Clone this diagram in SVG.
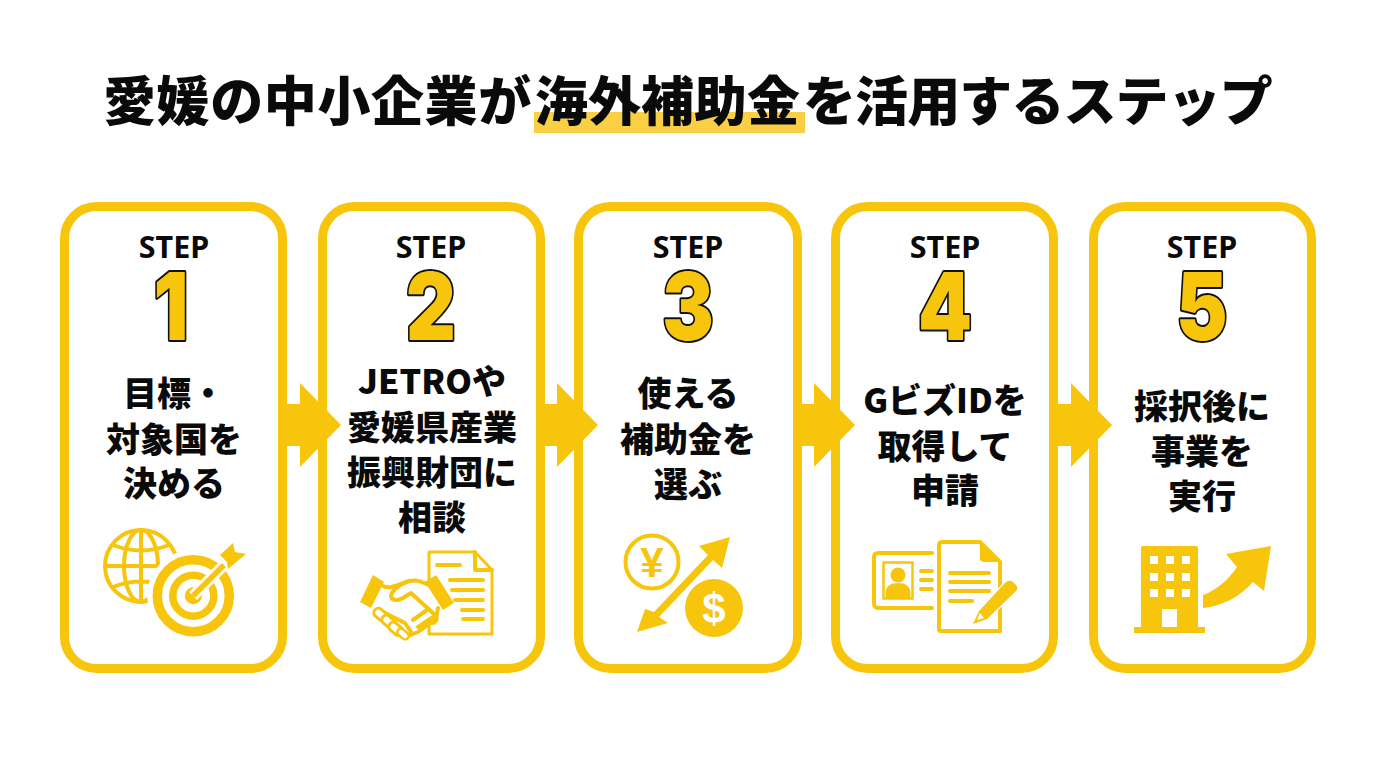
<svg xmlns="http://www.w3.org/2000/svg" width="1376" height="768" viewBox="0 0 1376 768">
<style>
text{font-family:"Noto Sans CJK JP","Noto Sans",sans-serif;text-anchor:middle;fill:#0a0a0a;font-weight:700}
.title{font-size:53px;font-weight:900;text-anchor:start}
.label{font-size:34px;font-weight:900}
.step{font-family:"Noto Sans",sans-serif;font-size:30.500px;font-weight:700}
.num{font-family:Inter,sans-serif;font-size:94px;font-weight:900;fill:#F7C50C;stroke:#111;stroke-width:4;stroke-linejoin:round;paint-order:stroke}
.card{fill:#fff;stroke:#F7C50C;stroke-width:9}
.y{fill:#F7C50C;stroke:none}
.o{fill:none;stroke:#F7C50C;stroke-width:4;stroke-linecap:round;stroke-linejoin:round}
.ow{fill:#fff;stroke:#F7C50C;stroke-width:3;stroke-linejoin:round}
</style>
<defs><path id="arrow" d="M-14 -21H0V-42L41 0L0 42V21H-14Z" fill="#F7C50C"/>
<rect id="fing" x="-8" y="-4.500" width="16" height="9" rx="4.500" fill="#fff" stroke="#F7C50C" stroke-width="3"/></defs>
<rect width="1376" height="768" fill="#fff"/>
<g id="title">
<rect x="534" y="112" width="271" height="21" fill="#F9D043"/>
<text class="title" x="103" y="121" letter-spacing=".6">愛媛の中小企業が</text>
<text class="title" x="535" y="121">海外補助金</text>
<text class="title" x="803" y="121" letter-spacing="-.9">を活用するステップ</text>
</g>
<g id="step1">
<rect class="card" x="64.500" y="206.500" width="218" height="462" rx="32"/>
<text class="step" x="174" y="258">STEP</text>
<text class="num" transform="translate(171 340) scale(.82 1)">1</text>
<text class="label" x="174" y="406">目標・</text>
<text class="label" x="174" y="452">対象国を</text>
<text class="label" x="174" y="496">決める</text>
<g>
<circle class="o" cx="141" cy="566" r="36" stroke-width="4.500"/>
<ellipse class="o" cx="141" cy="566" rx="17" ry="36"/>
<path class="o" d="M141 530V602M105 566H177M113 545Q141 556 169 545M113 587Q141 576 169 587"/>
<circle cx="193.300" cy="595.700" r="46" fill="#fff"/>
<circle cx="193.300" cy="595.700" r="36" fill="none" stroke="#F7C50C" stroke-width="9.500"/>
<circle cx="193.300" cy="595.700" r="20.500" fill="none" stroke="#F7C50C" stroke-width="7.500"/>
<circle cx="193.300" cy="595.700" r="8.500" class="y"/>
<path d="M193 596L224 565" stroke="#fff" stroke-width="11"/>
<path d="M193 596L224 565" stroke="#F7C50C" stroke-width="5.500"/>
<path class="y" d="M220 555L233 543L235 552L246 554L228 569L227 562Z"/>
</g>
</g>
<g id="step2">
<rect class="card" x="322.500" y="206.500" width="218" height="462" rx="32"/>
<text class="step" x="431" y="258">STEP</text>
<text class="num" transform="translate(431 340) scale(.82 1)">2</text>
<text class="label" x="432" y="394">JETROや</text>
<text class="label" x="432" y="440">愛媛県産業</text>
<text class="label" x="432" y="485">振興財団に</text>
<text class="label" x="432" y="530">相談</text>
<g>
<path class="ow" d="M429 552H475L492 570V634H429Z"/>
<path class="o" d="M475 552V570H492M437 565H460M450 580H483M452 590H483M455 600H483M462 610H483M463 619H483" stroke-width="3"/>
<path d="M375 600L384 586C392 588 400 583 410 581C418 579 424 583 431 586L440 605L436 619L418 632L405 638L376 612Z" fill="#fff"/>
<path class="o" d="M383 586C390 590 398 584 410 581C418 579 424 583 431 586" stroke-width="3.500"/>
<path class="o" d="M409 581C400 584 392 590 391 596C392 601 398 601 403 598L411 593L435 615C439 620 434 625 429 622" stroke-width="3.500"/>
<path class="o" d="M438 608L436 619L418 632L405 637M383 612L405 623L411 632M413 620L427 610M418 627L433 617" stroke-width="3.500"/>
<use href="#fing" transform="translate(381 615) rotate(40)"/>
<use href="#fing" transform="translate(389 622) rotate(40)"/>
<use href="#fing" transform="translate(396 629) rotate(40)"/>
<use href="#fing" transform="translate(403 634) rotate(40) scale(.8)"/>
<path class="y" d="M373 575L384 582L371 608L360 602Z"/>
<path class="y" d="M436 575L425 582L443 610L454 603Z"/>
</g>
</g>
<g id="step3">
<rect class="card" x="578.500" y="206.500" width="219" height="462" rx="32"/>
<text class="step" x="688" y="258">STEP</text>
<text class="num" transform="translate(688 340) scale(.82 1)">3</text>
<text class="label" x="688" y="406">使える</text>
<text class="label" x="688" y="452">補助金を</text>
<text class="label" x="688" y="497">選ぶ</text>
<g>
<circle class="o" cx="652" cy="562" r="26.500" stroke-width="4.500"/>
<text x="652" y="577" style="fill:#F7C50C;font-size:42px;font-family:'Liberation Sans',sans-serif;font-weight:700">¥</text>
<circle class="y" cx="714" cy="608" r="29"/>
<text x="714" y="623" style="fill:#fff;font-size:42px;font-family:'Liberation Sans',sans-serif;font-weight:700">$</text>
<path class="y" d="M730 537L722 568L713 560L659 617L668 623L637 632L645 609L654 612L708 555L699 546Z"/>
</g>
</g>
<g id="step4">
<rect class="card" x="835.500" y="206.500" width="218" height="462" rx="32"/>
<text class="step" x="945" y="258">STEP</text>
<text class="num" transform="translate(945 340) scale(.82 1)">4</text>
<text class="label" x="945" y="413">GビズIDを</text>
<text class="label" x="945" y="459">取得して</text>
<text class="label" x="945" y="503">申請</text>
<g>
<path class="o" d="M932 553H878Q874 553 874 557V603Q874 608 878 608H932"/>
<rect x="883.500" y="562.500" width="29" height="36" fill="none" stroke="#F7C50C" stroke-width="2.500"/>
<circle class="y" cx="898" cy="575" r="7.500"/>
<path class="y" d="M885.500 598V593C885.500 586 891 583 898 583C905 583 910.500 586 910.500 593V598Z"/>
<path class="o" d="M921 571H932M921 580H932M921 589H932" stroke-width="3"/>
<path class="o" d="M943 542H980L1000 562V631H941Q939 631 939 629V545Q939 542 943 542Z"/>
<path class="y" d="M980 542L1000 562H984Q980 562 980 558Z"/>
<path class="o" d="M950 573H989M950 582H989M950 591H989M950 601H972" stroke-width="3"/>
<path d="M973 624L979 611L1005 583Q1009 579 1013 582L1016 585Q1019 589 1015 592L987 619Z" fill="#F7C50C" stroke="#fff" stroke-width="3" paint-order="stroke"/>
<path d="M977 620L980 613L984 618Z" fill="#fff"/>
</g>
</g>
<g id="step5">
<rect class="card" x="1093.500" y="206.500" width="218" height="462" rx="32"/>
<text class="step" x="1202" y="258">STEP</text>
<text class="num" transform="translate(1202 340) scale(.82 1)">5</text>
<text class="label" x="1202" y="419">採択後に</text>
<text class="label" x="1202" y="464">事業を</text>
<text class="label" x="1202" y="509">実行</text>
<g>
<path class="y" d="M1143 546H1196Q1198 546 1198 548V627H1205V633H1134V627H1141V548Q1141 546 1143 546Z"/>
<g fill="#fff">
<rect x="1150" y="556" width="8" height="8"/><rect x="1166" y="556" width="8" height="8"/><rect x="1182" y="556" width="8" height="8"/>
<rect x="1150" y="573" width="8" height="8"/><rect x="1166" y="573" width="8" height="8"/><rect x="1182" y="573" width="8" height="8"/>
<rect x="1150" y="589" width="8" height="8"/><rect x="1166" y="589" width="8" height="8"/><rect x="1182" y="589" width="8" height="8"/>
<rect x="1162" y="609" width="15" height="18"/>
</g>
<path class="y" d="M1271 546L1264 591L1253 582C1240 597 1222 606 1203 608V595C1217 590 1228 580 1237 567L1226 554Z"/>
</g>
</g>
<g id="connectors">
<use href="#arrow" x="300" y="425"/>
<use href="#arrow" x="557" y="425"/>
<use href="#arrow" x="814" y="425"/>
<use href="#arrow" x="1071" y="425"/>
</g>
</svg>
